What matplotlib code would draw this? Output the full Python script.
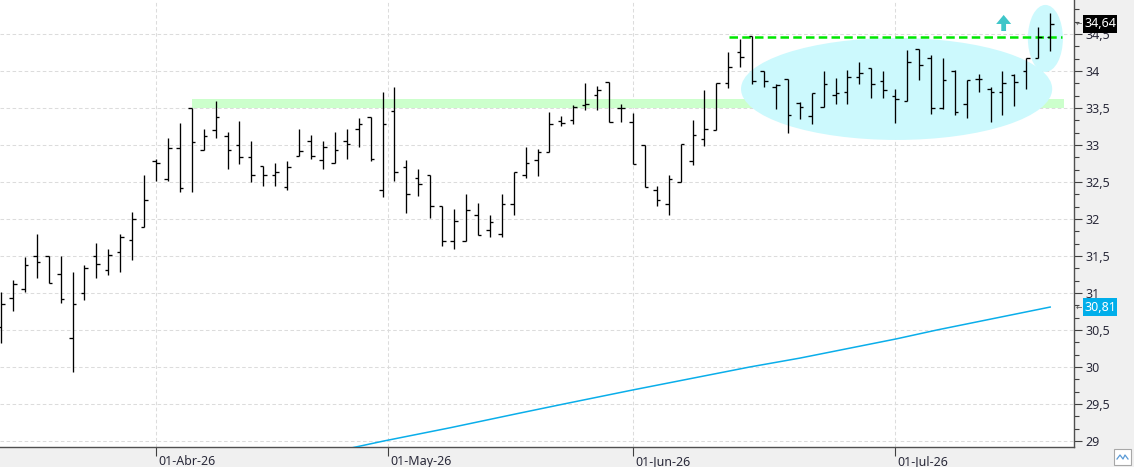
import matplotlib
matplotlib.use("Agg")
import matplotlib.pyplot as plt
import matplotlib.transforms as mtransforms
from matplotlib.patches import Ellipse, Polygon, Rectangle
from matplotlib.ticker import MultipleLocator, FuncFormatter
import numpy as np

# ---------------- data ----------------
opens = [30.54, 30.93, 31.05, 31.50, 31.50, 31.26, 30.39, 31.00, 31.50, 31.31,
         31.55, 31.72, 31.89, 32.79, 32.54, 32.96, 33.50, 32.93, 33.20, 33.12,
         33.00, 32.84, 32.72, 32.59, 32.43, 32.85, 33.05, 32.80, 32.76, 33.06,
         33.22, 33.38, 32.39, 33.46, 32.70, 32.55, 32.59, 32.17, 31.70, 31.70,
         32.05, 31.85, 31.80, 32.20, 32.59, 32.80, 32.91, 33.32, 33.34, 33.54,
         33.67, 33.85, 33.50, 33.31, 33.00, 32.39, 32.20, 32.50, 32.79, 33.08,
         33.20, 33.84, 34.25, 34.47, 34.00, 33.78, 33.89, 33.57, 33.39, 33.51,
         33.67, 33.72, 33.92, 34.04, 33.87, 33.66, 33.59, 34.30, 34.18, 33.50,
         34.00, 33.55, 33.89, 33.75, 33.72, 33.95, 34.00, 34.18, 34.46]
highs = [31.02, 31.18, 31.48, 31.80, 31.50, 31.50, 31.29, 31.38, 31.68, 31.60,
         31.80, 32.09, 32.60, 32.81, 33.10, 33.30, 33.50, 33.22, 33.59, 33.17,
         33.32, 33.05, 32.72, 32.76, 32.79, 33.22, 33.14, 33.06, 33.17, 33.22,
         33.36, 33.38, 33.71, 33.79, 32.80, 32.67, 32.59, 32.17, 32.13, 32.34,
         32.22, 32.05, 32.34, 32.63, 32.97, 32.95, 33.44, 33.39, 33.54, 33.84,
         33.80, 33.85, 33.55, 33.43, 33.00, 32.45, 32.59, 33.01, 33.34, 33.74,
         33.84, 34.25, 34.43, 34.47, 34.00, 33.83, 33.89, 33.58, 33.70, 34.00,
         33.91, 34.01, 34.12, 34.04, 34.00, 33.75, 34.28, 34.30, 34.22, 34.18,
         34.01, 33.88, 33.96, 33.78, 34.00, 33.96, 34.17, 34.59, 34.79]
lows = [30.33, 30.75, 31.01, 31.20, 31.14, 30.87, 29.93, 30.91, 31.20, 31.24,
        31.28, 31.45, 31.89, 32.51, 32.52, 32.37, 32.37, 32.93, 33.09, 32.68,
        32.74, 32.50, 32.45, 32.45, 32.39, 32.85, 32.81, 32.68, 32.75, 32.81,
        32.97, 32.78, 32.30, 32.51, 32.08, 32.31, 32.01, 31.63, 31.59, 31.70,
        31.78, 31.76, 31.76, 32.05, 32.55, 32.58, 32.91, 33.26, 33.28, 33.47,
        33.47, 33.31, 33.31, 32.74, 32.43, 32.17, 32.05, 32.50, 32.73, 32.99,
        33.20, 33.77, 34.05, 33.83, 33.79, 33.49, 33.16, 33.35, 33.29, 33.51,
        33.55, 33.55, 33.83, 33.63, 33.63, 33.30, 33.59, 33.88, 33.42, 33.49,
        33.41, 33.37, 33.71, 33.31, 33.41, 33.53, 33.75, 34.17, 34.27]
closes = [30.85, 31.12, 31.38, 31.42, 31.14, 30.92, 30.85, 31.34, 31.39, 31.51,
          31.76, 32.00, 32.26, 32.76, 32.96, 32.42, 33.04, 33.12, 33.38, 32.93,
          32.84, 32.59, 32.59, 32.64, 32.70, 32.92, 32.85, 32.97, 32.93, 33.01,
          33.29, 32.81, 33.28, 32.64, 32.34, 32.47, 32.17, 31.70, 31.97, 32.12,
          31.78, 31.96, 32.20, 32.63, 32.75, 32.91, 33.29, 33.30, 33.51, 33.55,
          33.74, 33.31, 33.50, 32.74, 32.43, 32.25, 32.54, 33.01, 33.13, 33.22,
          33.84, 34.05, 34.19, 33.87, 33.87, 33.81, 33.41, 33.51, 33.70, 33.83,
          33.70, 33.92, 33.97, 33.83, 33.74, 33.62, 34.12, 34.08, 33.50, 33.88,
          33.44, 33.88, 33.89, 33.72, 33.84, 33.85, 34.17, 34.46, 34.64]

month_tick_pos = [13, 32.45, 53, 75]
month_labels = ["01-Abr-26", "01-May-26", "01-Jun-26", "01-Jul-26"]

# moving average line: points (bar position, value)
ma_pos = [29.5, 32.1, 37.7, 43.3, 47.2, 53.0, 62.8, 67.0, 75.1, 78.5, 88.0]
ma_val = [28.91, 29.00, 29.18, 29.37, 29.50, 29.69, 30.00, 30.12, 30.38, 30.50, 30.81]

resistance_level = 34.46
resistance_from = 61.1
support_band = (33.50, 33.62)
support_from, support_to = 16.0, 89.2
last_close_label = "34,64"
ma_last_label = "30,81"

# ---------------- figure ----------------
W, H = 1134, 467
plt.rcParams['font.family'] = ['Noto Sans', 'DejaVu Sans']
fig = plt.figure(figsize=(W / 100, H / 100), dpi=100, facecolor="#f0f0f0")
ax = fig.add_axes([0, 20 / H, 1074 / W, 447 / H])
ax.set_facecolor("white")
ax.set_xlim(-0.087, 90.0)
ax.set_ylim(28.919, 34.959)

x = np.arange(len(opens))

# support band
ax.add_patch(Rectangle((support_from, support_band[0]), support_to - support_from,
                       support_band[1] - support_band[0], facecolor="#ccffcc",
                       edgecolor="none", zorder=1))
# highlight ellipses
ell_col = "#ccf9fd"
ax.add_patch(Ellipse((75.12, 33.757), 26.1, 1.378, facecolor=ell_col, edgecolor="none", zorder=2))
ax.add_patch(Ellipse((87.6, 34.44), 2.94, 0.905, facecolor=ell_col, edgecolor="none", zorder=2))

# resistance dashed line
ax.plot([resistance_from, 89.0], [resistance_level, resistance_level], color="#00e600",
        lw=1.8, linestyle=(0, (3.4, 1.7)), zorder=3, solid_capstyle='butt', dash_capstyle='butt')

# arrow
ax.add_patch(Polygon([(84.10, 34.757), (84.73, 34.635), (84.30, 34.635), (84.30, 34.54),
                      (83.90, 34.54), (83.90, 34.635), (83.47, 34.635)],
                     closed=True, facecolor="#3ec6c9", edgecolor="none", zorder=4))

# moving average
ax.plot(ma_pos, ma_val, color="#0aaeea", lw=1.1, zorder=4)

# OHLC bars
ax.vlines(x, lows, highs, color="black", lw=0.95, zorder=5)
ax.hlines(opens, x - 0.3, x, color="black", lw=0.95, zorder=5)
ax.hlines(closes, x, x + 0.3, color="black", lw=0.95, zorder=5)

# grid
ax.set_yticks(np.arange(29, 34.51, 0.5))
ax.set_xticks(month_tick_pos)
ax.grid(True, color="#dcdcdc", lw=0.75, linestyle=(0, (3.4, 2.4)), zorder=0)
ax.set_axisbelow(True)

# axes styling
for s in ["top", "left"]:
    ax.spines[s].set_visible(False)
for s in ["bottom", "right"]:
    ax.spines[s].set_color("#505050")
    ax.spines[s].set_linewidth(1.0)

ax.yaxis.tick_right()
ax.yaxis.set_minor_locator(MultipleLocator(1 / 6))
ax.yaxis.set_major_formatter(FuncFormatter(lambda v, p: f"{v:g}".replace(".", ",")))
ax.tick_params(axis="y", which="major", length=5.8, width=0.8, color="#404040",
               pad=2.5, labelsize=9, labelcolor="#2a2a3a")
ax.tick_params(axis="y", which="minor", length=3.6, width=0.8, color="#404040")
ax.set_xticklabels(month_labels)
ax.tick_params(axis="x", length=6.5, width=0.8, color="#404040", pad=-1,
               labelsize=9, labelcolor="#2a2a3a")
offset = mtransforms.ScaledTranslation(2 / 100, 0, fig.dpi_scale_trans)
for lbl in ax.get_xticklabels():
    lbl.set_horizontalalignment("left")
    lbl.set_transform(lbl.get_transform() + offset)

# value labels on the right scale
bt = mtransforms.blended_transform_factory(fig.transFigure, ax.transData)
box_h = 18 / 74
for val, txt, col in [(34.64, last_close_label, "black"), (30.81, ma_last_label, "#00aeea")]:
    fig.patches.append(Rectangle((1083 / W, val - box_h / 2), 34 / W, box_h,
                                 transform=bt, facecolor=col, edgecolor="none", zorder=10))
    fig.text(1100 / W, val, txt, transform=bt, color="white", fontsize=9,
             ha="center", va="center", zorder=11)
    fig.text(1078.5 / W, val, "←", transform=bt, color="#555555", fontsize=5.5,
             ha="center", va="center", family="DejaVu Sans", zorder=11)

# partially visible top label
fig.text(1085 / W, 35.0, "35", transform=bt, color="#2a2a3a", fontsize=9, ha="left", va="center")

# small icon at bottom right
fig.patches.append(Rectangle((1114 / W, 1 - 465 / H), 17 / W, 16 / H, transform=fig.transFigure,
                             facecolor="white", edgecolor="#a8a8a8", lw=0.8))
zx = np.array([1117, 1120, 1123, 1125, 1128]) / W
zy = 1 - np.array([459, 455, 459, 455, 459]) / H
fig.lines.append(plt.Line2D(zx, zy, transform=fig.transFigure, color="#5a9ad6", lw=0.9))

fig.savefig("out.png", dpi=100, facecolor=fig.get_facecolor())
